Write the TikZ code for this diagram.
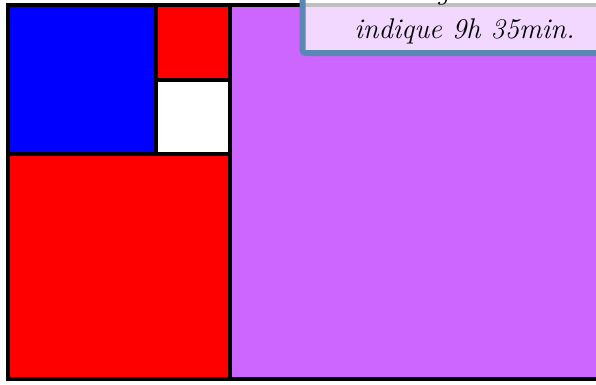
\documentclass[tikz,border=0pt]{standalone}
\definecolor{purp}{RGB}{204,102,255}
\definecolor{boxblue}{RGB}{91,135,180}
\begin{document}
\begin{tikzpicture}[x=1pt,y=-1pt,
  cell/.style={draw=black,line width=4pt},
  lbl/.style={font=\fontsize{28.5}{32}\selectfont\itshape, inner sep=0pt, text=black}]
\useasboundingbox (0,0) rectangle (596,384);
\clip (0,0) rectangle (596,384);
\fill[white] (0,0) rectangle (596,384);
\draw[cell,fill=purp] (230,5) rectangle (620,379);
\draw[cell,fill=blue] (8,5) rectangle (156,154);
\draw[cell,fill=red] (156,5) rectangle (230,79.5);
\draw[cell,fill=white] (156,79.5) rectangle (230,154);
\draw[cell,fill=red] (8,154) rectangle (230,379);
\draw[line width=6pt, draw=boxblue, fill=white, fill opacity=0.75, draw opacity=1, rounded corners=3pt] (302.5,-30) rectangle (650,53);
\node[lbl, anchor=base] (g) at (443,-1) {g};
\node[lbl, anchor=base] (t) at (464.5,38) {indique 9h 35min.};
\end{tikzpicture}
\end{document}
